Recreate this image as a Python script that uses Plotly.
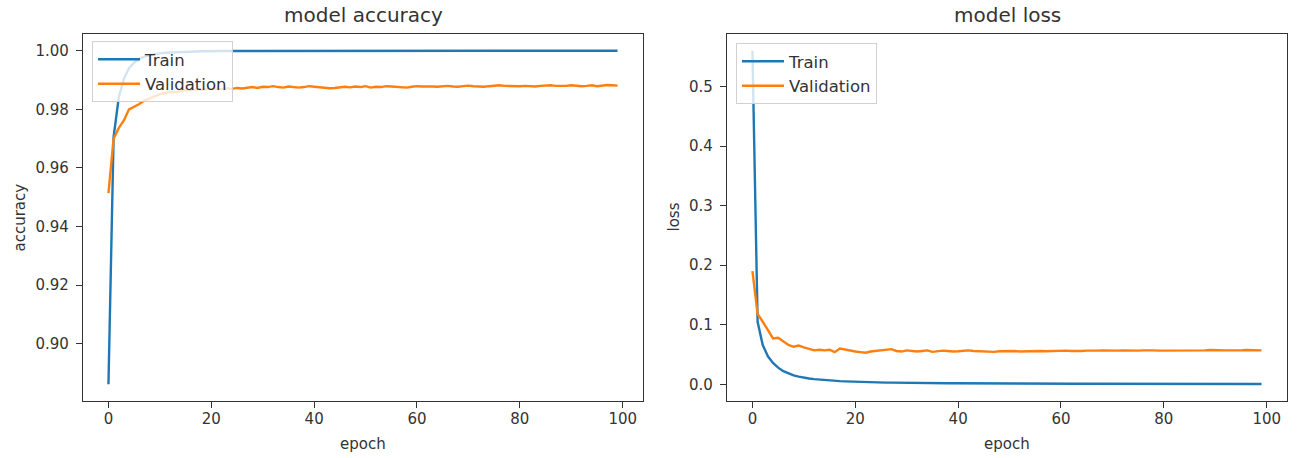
import plotly.graph_objects as go

epochs = list(range(100))

train_acc = [
    0.8862, 0.9705, 0.9840, 0.9905, 0.9940, 0.9960, 0.9972, 0.9980, 0.9985, 0.9989,
    0.9991, 0.9993, 0.9994, 0.9995, 0.9996, 0.9997, 0.9997, 0.9998, 0.9998, 0.9998,
    0.9999, 0.9999, 0.9999, 0.9999, 0.9999, 0.9999, 1.0000, 1.0000, 1.0000, 1.0000,
    1.0000, 1.0000, 1.0000, 1.0000, 1.0000, 1.0000, 1.0000, 1.0000, 1.0000, 1.0000,
    1.0000, 1.0000, 1.0000, 1.0000, 1.0000, 1.0000, 1.0000, 1.0000, 1.0000, 1.0000,
    1.0000, 1.0000, 1.0000, 1.0000, 1.0000, 1.0000, 1.0000, 1.0000, 1.0000, 1.0000,
    1.0000, 1.0000, 1.0000, 1.0000, 1.0000, 1.0000, 1.0000, 1.0000, 1.0000, 1.0000,
    1.0000, 1.0000, 1.0000, 1.0000, 1.0000, 1.0000, 1.0000, 1.0000, 1.0000, 1.0000,
    1.0000, 1.0000, 1.0000, 1.0000, 1.0000, 1.0000, 1.0000, 1.0000, 1.0000, 1.0000,
    1.0000, 1.0000, 1.0000, 1.0000, 1.0000, 1.0000, 1.0000, 1.0000, 1.0000, 1.0000,
]

val_acc = [
    0.9514, 0.9700, 0.9736, 0.9762, 0.9800, 0.9808, 0.9818, 0.9830, 0.9838, 0.9846,
    0.9852, 0.9856, 0.9860, 0.9858, 0.9862, 0.9866, 0.9864, 0.9868, 0.9866, 0.9870,
    0.9869, 0.9871, 0.9868, 0.9872, 0.9870, 0.9873, 0.9871, 0.9874, 0.9876, 0.9873,
    0.9877, 0.9876, 0.9879, 0.9876, 0.9874, 0.9878, 0.9877, 0.9874, 0.9876, 0.9879,
    0.9877, 0.9875, 0.9873, 0.9872, 0.9873, 0.9875, 0.9877, 0.9875, 0.9878, 0.9876,
    0.9879, 0.9874, 0.9877, 0.9876, 0.9879, 0.9878, 0.9877, 0.9876, 0.9874, 0.9877,
    0.9879, 0.9878, 0.9879, 0.9878, 0.9877, 0.9878, 0.9880, 0.9878, 0.9877, 0.9879,
    0.9881, 0.9879, 0.9878, 0.9877, 0.9879, 0.9881, 0.9882, 0.9880, 0.9879, 0.9878,
    0.9879, 0.9880, 0.9879, 0.9878, 0.9880, 0.9881, 0.9882, 0.9880, 0.9879, 0.9880,
    0.9882, 0.9880, 0.9879, 0.9880, 0.9882, 0.9879, 0.9881, 0.9883, 0.9882, 0.9881,
]

train_loss = [
    0.5600, 0.1050, 0.0660, 0.0470, 0.0360, 0.0280, 0.0220, 0.0180, 0.0150, 0.0130,
    0.0110, 0.0098, 0.0088, 0.0079, 0.0071, 0.0065, 0.0059, 0.0054, 0.0050, 0.0046,
    0.0043, 0.0040, 0.0037, 0.0035, 0.0033, 0.0031, 0.0029, 0.0028, 0.0026, 0.0025,
    0.0024, 0.0023, 0.0022, 0.0021, 0.0020, 0.0019, 0.0019, 0.0018, 0.0017, 0.0017,
    0.0016, 0.0016, 0.0015, 0.0015, 0.0014, 0.0014, 0.0014, 0.0013, 0.0013, 0.0013,
    0.0012, 0.0012, 0.0012, 0.0011, 0.0011, 0.0011, 0.0011, 0.0010, 0.0010, 0.0010,
    0.0010, 0.0010, 0.0009, 0.0009, 0.0009, 0.0009, 0.0009, 0.0009, 0.0008, 0.0008,
    0.0008, 0.0008, 0.0008, 0.0008, 0.0008, 0.0007, 0.0007, 0.0007, 0.0007, 0.0007,
    0.0007, 0.0007, 0.0007, 0.0007, 0.0006, 0.0006, 0.0006, 0.0006, 0.0006, 0.0006,
    0.0006, 0.0006, 0.0006, 0.0006, 0.0006, 0.0006, 0.0005, 0.0005, 0.0005, 0.0005,
]

val_loss = [
    0.1900, 0.1180, 0.1050, 0.0910, 0.0770, 0.0780, 0.0720, 0.0660, 0.0630, 0.0650,
    0.0620, 0.0590, 0.0570, 0.0580, 0.0570, 0.0580, 0.0540, 0.0600, 0.0580, 0.0560,
    0.0550, 0.0540, 0.0530, 0.0550, 0.0560, 0.0570, 0.0570, 0.0590, 0.0560, 0.0550,
    0.0570, 0.0560, 0.0550, 0.0560, 0.0570, 0.0545, 0.0555, 0.0565, 0.0560, 0.0550,
    0.0555, 0.0565, 0.0570, 0.0560, 0.0555, 0.0560, 0.0550, 0.0545, 0.0555, 0.0560,
    0.0565, 0.0560, 0.0550, 0.0555, 0.0560, 0.0565, 0.0560, 0.0555, 0.0560, 0.0565,
    0.0570, 0.0565, 0.0560, 0.0555, 0.0560, 0.0565, 0.0560, 0.0565, 0.0570, 0.0565,
    0.0560, 0.0565, 0.0570, 0.0565, 0.0560, 0.0565, 0.0570, 0.0575, 0.0570, 0.0565,
    0.0565, 0.0570, 0.0565, 0.0560, 0.0565, 0.0570, 0.0570, 0.0565, 0.0570, 0.0575,
    0.0570, 0.0565, 0.0570, 0.0570, 0.0565, 0.0570, 0.0575, 0.0570, 0.0565, 0.0570,
]

acc_ticks = [0.90, 0.92, 0.94, 0.96, 0.98, 1.00]
loss_ticks = [0.0, 0.1, 0.2, 0.3, 0.4, 0.5]
epoch_ticks = [0, 20, 40, 60, 80, 100]

BLUE = "#1f77b4"
ORANGE = "#ff7f0e"
W, H = 1299, 458
FONT = "DejaVu Sans"
TXT = "#333333"
FS = 15


def px(x):
    return x / W


def py(y):
    return 1 - y / H


L_X0, L_X1 = 83, 643
R_X0, R_X1 = 727, 1287
Y_TOP, Y_BOT = 34, 401

fig = go.Figure()
fig.add_trace(go.Scatter(x=epochs, y=train_acc, name="Train", mode="lines",
                         line=dict(color=BLUE, width=2.4), xaxis="x", yaxis="y", legend="legend"))
fig.add_trace(go.Scatter(x=epochs, y=val_acc, name="Validation", mode="lines",
                         line=dict(color=ORANGE, width=2.4), xaxis="x", yaxis="y", legend="legend"))
fig.add_trace(go.Scatter(x=epochs, y=train_loss, name="Train", mode="lines",
                         line=dict(color=BLUE, width=2.4), xaxis="x2", yaxis="y2", legend="legend2"))
fig.add_trace(go.Scatter(x=epochs, y=val_loss, name="Validation", mode="lines",
                         line=dict(color=ORANGE, width=2.4), xaxis="x2", yaxis="y2", legend="legend2"))

axis_common = dict(showline=True, linecolor="#333333", linewidth=1.3, mirror=True,
                   ticks="outside", ticklen=6, tickcolor="#333333", tickwidth=1.3,
                   showgrid=False, zeroline=False, automargin=False,
                   tickfont=dict(family=FONT, size=FS, color=TXT))

y0, y1 = py(Y_BOT), py(Y_TOP)
legend_common = dict(xanchor="left", yanchor="top", itemwidth=42,
                     bgcolor="rgba(255,255,255,0.8)", bordercolor="#d0d0d0", borderwidth=1,
                     font=dict(family=FONT, size=16.5, color=TXT), tracegroupgap=0)


def ann(text, x, y, size=FS, angle=0):
    return dict(text=text, x=px(x), y=py(y), xref="paper", yref="paper",
                xanchor="center", yanchor="middle", showarrow=False, textangle=angle,
                font=dict(family=FONT, size=size, color=TXT))


fig.update_layout(
    width=W, height=H,
    margin=dict(l=0, r=0, t=0, b=0),
    paper_bgcolor="white", plot_bgcolor="white",
    font=dict(family=FONT, color=TXT),
    xaxis=dict(domain=[px(L_X0), px(L_X1)], range=[-4.95, 103.95], tickvals=epoch_ticks,
               anchor="y", ticklabelstandoff=-2, **axis_common),
    yaxis=dict(domain=[y0, y1], range=[0.8805, 1.0057], tickvals=acc_ticks, tickformat=".2f",
               anchor="x", ticklabelstandoff=4, **axis_common),
    xaxis2=dict(domain=[px(R_X0), px(R_X1)], range=[-4.95, 103.95], tickvals=epoch_ticks,
                anchor="y2", ticklabelstandoff=-2, **axis_common),
    yaxis2=dict(domain=[y0, y1], range=[-0.028, 0.588], tickvals=loss_ticks, tickformat=".1f",
                anchor="x2", ticklabelstandoff=4, **axis_common),
    legend=dict(x=px(92), y=py(41), **legend_common),
    legend2=dict(x=px(736), y=py(43), **legend_common),
    showlegend=True,
    annotations=[
        ann("model accuracy", (L_X0 + L_X1) / 2, 15, size=20),
        ann("model loss", (R_X0 + R_X1) / 2, 15, size=20),
        ann("epoch", (L_X0 + L_X1) / 2, 444),
        ann("epoch", (R_X0 + R_X1) / 2, 444),
        ann("accuracy", 19, (Y_TOP + Y_BOT) / 2, angle=-90),
        ann("loss", 673, (Y_TOP + Y_BOT) / 2, angle=-90),
    ],
)

# remove the page's default 8px body margin so the figure fills the window exactly
fig.write_html("out.html",
               config={"displayModeBar": False},
               post_script="document.body.style.margin='0';document.body.style.overflow='hidden';")
